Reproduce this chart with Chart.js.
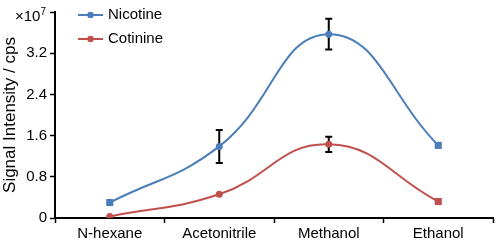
<!DOCTYPE html>
<html>
<head>
<meta charset="utf-8">
<script src="https://cdn.jsdelivr.net/npm/chart.js@4"></script>
<style>
    html, body { margin: 0; padding: 0; background: #fff; }
    #wrap { width: 498px; height: 241px; position: relative; }
</style>
</head>
<body>
<div id="wrap"><canvas id="chart"></canvas></div>
<script>
// values in units of 1e7 cps
const solvents = ['N-hexane', 'Acetonitrile', 'Methanol', 'Ethanol'];
const nicotine = [0.30, 1.39, 3.57, 1.41];
const nicotineErr = [0, 0.32, 0.30, 0];
const cotinine = [0.03, 0.46, 1.43, 0.32];
const cotinineErr = [0, 0, 0.15, 0];
const yTicks = [0, 0.8, 1.6, 2.4, 3.2, 4.0];

const BLUE = '#4a7ebb';
const RED = '#c0504d';
const FONT = '"Liberation Sans", Arial, sans-serif';

// black error bars, drawn under the markers
const errorBars = {
    id: 'errorBars',
    beforeDatasetsDraw(chart) {
        const { ctx, scales: { x, y } } = chart;
        ctx.save();
        ctx.strokeStyle = '#000';
        ctx.lineWidth = 2;
        chart.data.datasets.forEach(ds => {
            ds.errors.forEach((e, j) => {
                if (!e) return;
                const px = x.getPixelForValue(j);
                const top = y.getPixelForValue(ds.data[j] + e);
                const bot = y.getPixelForValue(ds.data[j] - e);
                ctx.beginPath();
                ctx.moveTo(px, top); ctx.lineTo(px, bot);
                ctx.moveTo(px - 3.5, top); ctx.lineTo(px + 3.5, top);
                ctx.moveTo(px - 3.5, bot); ctx.lineTo(px + 3.5, bot);
                ctx.stroke();
            });
        });
        ctx.restore();
    }
};

// legend inside the plot + exponent label on the y axis
const extras = {
    id: 'extras',
    afterDraw(chart) {
        const { ctx, scales: { y } } = chart;
        ctx.save();
        chart.data.datasets.forEach((ds, i) => {
            const cy = 15 + i * 24;
            ctx.strokeStyle = ds.borderColor;
            ctx.lineWidth = 2;
            ctx.beginPath();
            ctx.moveTo(78, cy); ctx.lineTo(103, cy);
            ctx.stroke();
            ctx.fillStyle = ds.borderColor;
            ctx.beginPath();
            ctx.arc(90.5, cy, 3.2, 0, Math.PI * 2);
            ctx.fill();
            ctx.fillStyle = '#000';
            ctx.font = '15px ' + FONT;
            ctx.textBaseline = 'middle';
            ctx.textAlign = 'left';
            ctx.fillText(ds.label, 108, cy);
        });

        const ty = y.getPixelForValue(yTicks[yTicks.length - 1]) + 5;
        ctx.fillStyle = '#000';
        ctx.textBaseline = 'middle';
        ctx.textAlign = 'right';
        ctx.font = '10px ' + FONT;
        ctx.fillText('7', 46, ty - 5);
        const w7 = ctx.measureText('7').width;
        ctx.font = '15px ' + FONT;
        ctx.fillText('\u00d710', 46 - w7, ty);
        ctx.restore();
    }
};

new Chart(document.getElementById('chart'), {
    type: 'line',
    data: {
        labels: solvents,
        datasets: [
            {
                label: 'Nicotine',
                data: nicotine,
                errors: nicotineErr,
                borderColor: BLUE,
                backgroundColor: BLUE,
                borderWidth: 2,
                tension: 0.45,
                pointStyle: ['rect', 'circle', 'circle', 'rect'],
                pointRadius: [5, 3.5, 3.5, 5],
                pointBorderWidth: 0
            },
            {
                label: 'Cotinine',
                data: cotinine,
                errors: cotinineErr,
                borderColor: RED,
                backgroundColor: RED,
                borderWidth: 2,
                tension: 0.45,
                pointStyle: ['circle', 'circle', 'circle', 'rect'],
                pointRadius: [3.5, 3.5, 3.5, 5],
                pointBorderWidth: 0
            }
        ]
    },
    options: {
        responsive: true,
        maintainAspectRatio: false,
        animation: false,
        layout: { padding: { top: 5, right: 2, left: 0, bottom: 0 } },
        scales: {
            x: {
                offset: true,
                grid: { offset: true, drawOnChartArea: false, drawTicks: true, tickLength: 5, color: '#000', tickWidth: 1.5 },
                border: { color: '#000', width: 2 },
                ticks: { color: '#000', font: { family: FONT, size: 15 }, padding: 2, maxRotation: 0 },
                afterFit(scale) { scale.height = 23; }
            },
            y: {
                min: yTicks[0],
                max: yTicks[yTicks.length - 1],
                afterBuildTicks(scale) { scale.ticks = yTicks.map(v => ({ value: v })); },
                grid: { drawOnChartArea: false, drawTicks: true, tickLength: 5, color: '#000', tickWidth: 1.5 },
                border: { color: '#000', width: 2 },
                ticks: {
                    color: '#000',
                    font: { family: FONT, size: 15 },
                    padding: 3,
                    callback: v => v === yTicks[yTicks.length - 1] ? '' : (v === 0 ? '0' : v.toFixed(1))
                },
                title: {
                    display: true,
                    text: 'Signal Intensity / cps',
                    color: '#000',
                    font: { family: FONT, size: 17 },
                    padding: { top: 0, bottom: 0 }
                },
                afterFit(scale) { scale.width = 55; }
            }
        },
        plugins: {
            legend: { display: false },
            tooltip: { enabled: false }
        }
    },
    plugins: [errorBars, extras]
});
</script>
</body>
</html>
